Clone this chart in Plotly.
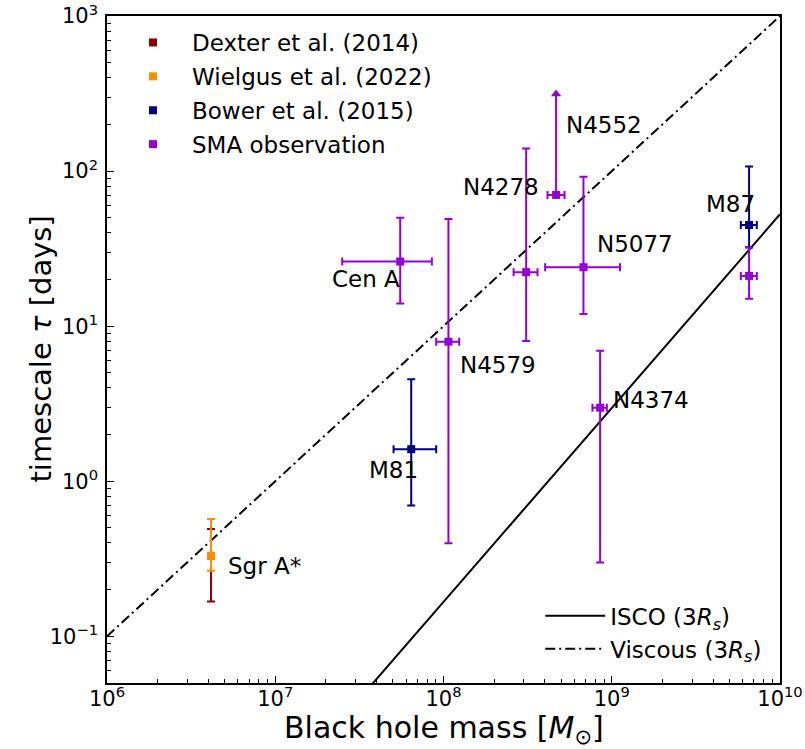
import numpy as np
import plotly.graph_objects as go

# ---------------- data ----------------
line_mass = [1e6, 1e10]
isco_tau = [5.27e-4, 52.7]
viscous_tau = [0.1, 1000.0]

sgr_mass = [4.15e6]
dexter_tau = [0.33]
dexter_lo = [0.168]
dexter_hi = [0.492]
wielgus_tau = [0.33]
wielgus_lo = [0.265]
wielgus_hi = [0.571]

bower_names = ["M81", "M87"]
bower_mass = [6.43e7, 6.55e9]
bower_mass_lo = [5.05e7, 5.85e9]
bower_mass_hi = [9.05e7, 7.28e9]
bower_tau = [1.61, 44.9]
bower_tau_lo = [0.697, 32.3]
bower_tau_hi = [4.55, 107.0]

sma_names = ["Cen A", "N4579", "N4278", "N5077", "N4374", "M87"]
sma_mass = [5.53e7, 1.07e8, 3.1e8, 6.79e8, 8.53e8, 6.55e9]
sma_mass_lo = [2.5e7, 9.05e7, 2.61e8, 4.02e8, 7.68e8, 5.85e9]
sma_mass_hi = [8.53e7, 1.24e8, 3.62e8, 1.12e9, 9.35e8, 7.28e9]
sma_tau = [26.1, 7.94, 22.3, 24.0, 2.98, 21.1]
sma_tau_lo = [14.0, 0.398, 8.03, 12.0, 0.299, 15.0]
sma_tau_hi = [50.1, 49.1, 140.0, 92.0, 6.95, 32.1]

# lower limit (N4552)
lim_name = "N4552"
lim_mass = [4.67e8]
lim_mass_lo = [4.15e8]
lim_mass_hi = [5.24e8]
lim_tau = [70.2]
lim_arrow_tip = [314.0]

x_tick_vals = [1e6, 1e7, 1e8, 1e9, 1e10]
x_tick_text = ["10<sup>6</sup>", "10<sup>7</sup>", "10<sup>8</sup>", "10<sup>9</sup>", "10<sup>10</sup>"]
y_tick_vals = [0.1, 1, 10, 100, 1000]
y_tick_text = ["10<sup>−1</sup>", "10<sup>0</sup>", "10<sup>1</sup>", "10<sup>2</sup>", "10<sup>3</sup>"]

FONT = "DejaVu Sans"
C_DEX = "#8B0000"
C_WIE = "#FF8C00"
C_BOW = "#000080"
C_SMA = "#9400D3"


def diff(a, b):
    return [x - y for x, y in zip(a, b)]


def minor_vals(lo_exp, hi_exp):
    return [m * 10.0 ** e for e in range(lo_exp, hi_exp) for m in range(2, 10)]


fig = go.Figure()

# model lines
fig.add_trace(go.Scatter(x=line_mass, y=isco_tau, mode="lines",
                         line=dict(color="black", width=2),
                         name="ISCO (3<i>R<sub>s</sub></i>)", legend="legend2", legendgroup="isco"))
fig.add_trace(go.Scatter(x=line_mass, y=viscous_tau, mode="lines",
                         line=dict(color="black", width=2, dash="10px,4px,2px,4px"),
                         name="Viscous (3<i>R<sub>s</sub></i>)", legend="legend2", legendgroup="visc"))


def eb(x, y, ylo, yhi, color, name, xlo=None, xhi=None):
    kw = {}
    if xlo is not None:
        kw["error_x"] = dict(type="data", symmetric=False, array=diff(xhi, x),
                             arrayminus=diff(x, xlo), color=color, thickness=2, width=4)
    return go.Scatter(x=x, y=y, mode="markers", name=name, legendgroup=name,
                      marker=dict(symbol="square", size=8, color=color),
                      error_y=dict(type="data", symmetric=False, array=diff(yhi, y),
                                   arrayminus=diff(y, ylo), color=color, thickness=2, width=4),
                      **kw)


fig.add_trace(eb(sgr_mass, dexter_tau, dexter_lo, dexter_hi, C_DEX, "Dexter et al. (2014)"))
fig.add_trace(eb(sgr_mass, wielgus_tau, wielgus_lo, wielgus_hi, C_WIE, "Wielgus et al. (2022)"))
fig.add_trace(eb(bower_mass, bower_tau, bower_tau_lo, bower_tau_hi, C_BOW, "Bower et al. (2015)",
                 bower_mass_lo, bower_mass_hi))
fig.add_trace(eb(sma_mass, sma_tau, sma_tau_lo, sma_tau_hi, C_SMA, "SMA observation",
                 sma_mass_lo, sma_mass_hi))

# lower limit with arrow
fig.add_trace(go.Scatter(x=lim_mass, y=lim_tau, mode="markers", showlegend=False,
                         marker=dict(symbol="square", size=8, color=C_SMA),
                         error_x=dict(type="data", symmetric=False, array=diff(lim_mass_hi, lim_mass),
                                      arrayminus=diff(lim_mass, lim_mass_lo), color=C_SMA,
                                      thickness=2, width=4),
                         error_y=dict(type="data", symmetric=False, array=diff(lim_arrow_tip, lim_tau),
                                      arrayminus=[0], color=C_SMA, thickness=2, width=0)))
fig.add_trace(go.Scatter(x=lim_mass, y=lim_arrow_tip, mode="markers", showlegend=False,
                         marker=dict(symbol="triangle-up", size=9, color=C_SMA)))

# labels (pixel offsets from the points)
label_shift = {
    "Sgr A*": (54, -10), "Cen A": (-34, -17), "N4579": (50, -23), "M81": (-18, -21),
    "N4278": (-25, 85), "N4552": (48, 70), "N5077": (52, 23), "N4374": (51, 8),
    "M87": (-19, 21),
}
pts = [("Sgr A*", sgr_mass[0], wielgus_tau[0])]
pts += list(zip(bower_names, bower_mass, bower_tau))
pts += [(n, m, t) for n, m, t in zip(sma_names, sma_mass, sma_tau) if n != "M87"]
pts += [(lim_name, lim_mass[0], lim_tau[0])]
for n, m, t in pts:
    dx, dy = label_shift[n]
    fig.add_annotation(x=np.log10(m), y=np.log10(t), xref="x", yref="y", text=n,
                       showarrow=False, xshift=dx, yshift=dy,
                       font=dict(family=FONT, size=23, color="black"))

# axis titles
fig.add_annotation(x=0.5, y=0, xref="paper", yref="paper", yshift=-46,
                   xanchor="center", yanchor="middle", showarrow=False,
                   text="Black hole mass [<i>M</i><sub>⊙</sub>]",
                   font=dict(family=FONT, size=30, color="black"))
fig.add_annotation(x=0, y=0.5, xref="paper", yref="paper", xshift=-67,
                   xanchor="center", yanchor="middle", showarrow=False, textangle=-90,
                   text="timescale <i>τ</i> [days]",
                   font=dict(family=FONT, size=29, color="black"))

axis_common = dict(type="log", showgrid=False, zeroline=False, showline=True,
                   linecolor="black", linewidth=1.5, mirror=True, automargin=False,
                   ticks="inside", ticklen=7, tickwidth=1.2, tickcolor="black",
                   tickmode="array", ticklabeloverflow="allow",
                   tickfont=dict(family=FONT, size=21, color="black"))

fig.update_layout(
    width=805, height=749, autosize=False,
    paper_bgcolor="white", plot_bgcolor="white",
    margin=dict(l=107, r=25, t=16, b=66),
    font=dict(family=FONT, color="black"),
    xaxis=dict(range=[6, 10], tickvals=x_tick_vals, ticktext=x_tick_text,
               ticklabelstandoff=-4,
               minor=dict(ticks="inside", ticklen=4, tickwidth=1, tickcolor="black",
                          tickvals=minor_vals(6, 10), showgrid=False),
               **axis_common),
    yaxis=dict(range=[np.log10(0.05), 3.0001], tickvals=y_tick_vals, ticktext=y_tick_text,
               ticklabelstandoff=3,
               minor=dict(ticks="inside", ticklen=4, tickwidth=1, tickcolor="black",
                          tickvals=minor_vals(-2, 3), showgrid=False),
               **axis_common),
    legend=dict(x=0.0104, y=0.9925, xanchor="left", yanchor="top",
                font=dict(family=FONT, size=23, color="black"),
                bgcolor="rgba(255,255,255,0)", tracegroupgap=1, itemwidth=68),
    legend2=dict(x=0.981, y=0.019, xanchor="right", yanchor="bottom",
                 font=dict(family=FONT, size=23, color="black"),
                 bgcolor="rgba(255,255,255,0)", itemwidth=60, tracegroupgap=0),
)

fig.write_html("out.html", config={"displayModeBar": False},
               post_script="document.body.style.margin='0';document.body.style.overflow='hidden';")
